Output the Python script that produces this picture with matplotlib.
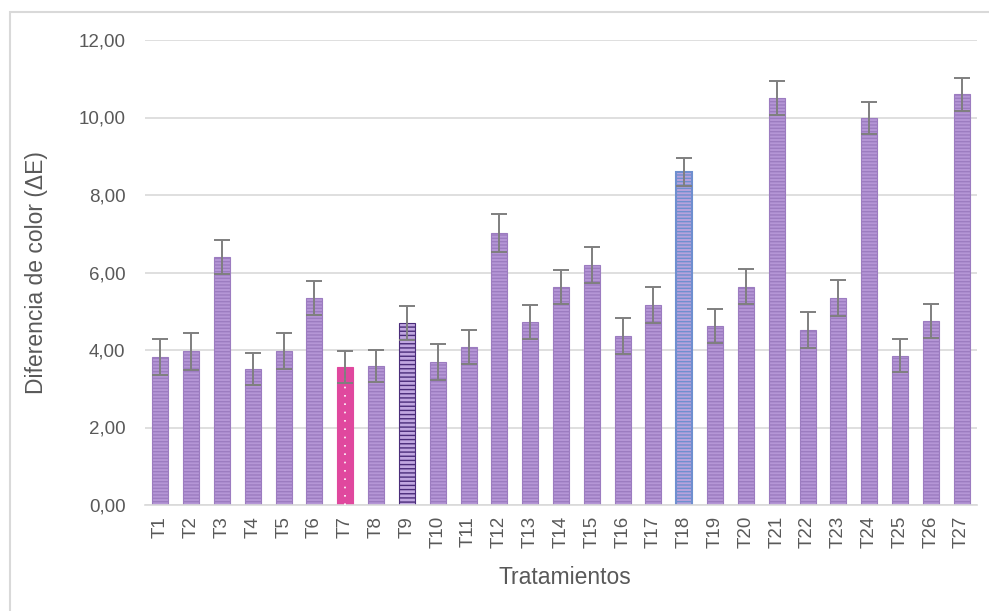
import numpy as np
import matplotlib
matplotlib.use("Agg")
import matplotlib.pyplot as plt
from matplotlib.patches import Rectangle

plt.rcParams['font.family'] = ['Liberation Sans', 'DejaVu Sans']
plt.rcParams['hatch.linewidth'] = 1.0

# tratamientos y diferencia de color (media, desviacion)
tratamientos = ['T%d' % i for i in range(1, 28)]
delta_e = [3.82, 3.97, 6.40, 3.51, 3.97, 5.34, 3.56, 3.59, 4.70, 3.69,
           4.08, 7.02, 4.72, 5.63, 6.19, 4.36, 5.16, 8.59, 4.62, 5.63,
           10.50, 4.52, 5.34, 9.99, 3.85, 4.75, 10.60]
error = [0.46, 0.48, 0.44, 0.41, 0.47, 0.44, 0.41, 0.41, 0.44, 0.46,
         0.43, 0.50, 0.43, 0.43, 0.47, 0.47, 0.46, 0.37, 0.44, 0.45,
         0.44, 0.46, 0.46, 0.42, 0.43, 0.44, 0.42]
y_ticks = [0, 2, 4, 6, 8, 10, 12]

txt = '#595959'
fig = plt.figure(figsize=(9.89, 6.11), dpi=100)
ax = fig.add_axes([145/989, 1-505/611, (977-145)/989, (505-40)/611])

x = np.arange(len(tratamientos))
bars = ax.bar(x, delta_e, width=0.52, color='#b596d6', edgecolor='#9c7cc0',
              hatch='-----', linewidth=0.8, zorder=2)
# barras especiales
bars[6].set_facecolor('#e0489e')
bars[6].set_edgecolor('#e0489e')
bars[6].set_hatch(None)
bars[8].set_facecolor('#c0a6e0')
bars[8].set_edgecolor('#4a2c7a')
bars[8].set_hatch('----')
bars[17].set_facecolor('#b7a2dc')
bars[17].set_edgecolor('#6f8fcf')
bars[17].set_linewidth(1.5)

# puntos blancos en T7
ax.plot([x[6]] * 2, [0, delta_e[6]], color='white', lw=1.2, ls=(0, (1, 4)), zorder=3)

ax.errorbar(x, delta_e, yerr=error, fmt='none', ecolor='#7f7f7f',
            elinewidth=1.4, capsize=6, capthick=1.4, zorder=4)

ax.set_xlim(-0.5, len(tratamientos) - 0.5)
ax.set_ylim(0, 12)
ax.set_yticks(y_ticks)
ax.set_xticks(x)
ax.set_xticklabels(tratamientos, rotation=90, fontsize=13.5, color=txt)
ax.tick_params(length=0, pad=8)
ax.yaxis.set_tick_params(pad=14, labelsize=13.5, labelcolor=txt)
ax.yaxis.set_major_formatter(matplotlib.ticker.FuncFormatter(lambda v, p: ('%.2f' % v).replace('.', ',')))
ax.grid(axis='y', color='#d9d9d9', lw=1.2, zorder=0)
ax.set_axisbelow(True)
for s in ['top', 'right', 'left']:
    ax.spines[s].set_visible(False)
ax.spines['bottom'].set_color('#d9d9d9')
ax.spines['bottom'].set_linewidth(1.2)

ax.set_ylabel('Diferencia de color (ΔE)', fontsize=16.5, color=txt, labelpad=22)
fig.text(565/989, 1-577/611, 'Tratamientos', fontsize=16.5, color=txt,
         ha='center', va='center')

# marco del grafico
fig.patches.append(Rectangle((10/989, -0.05), 1.1, 1-12/611+0.05, transform=fig.transFigure,
                             fill=False, edgecolor='#d9d9d9', lw=1.5))

fig.savefig('out.png', dpi=100)
